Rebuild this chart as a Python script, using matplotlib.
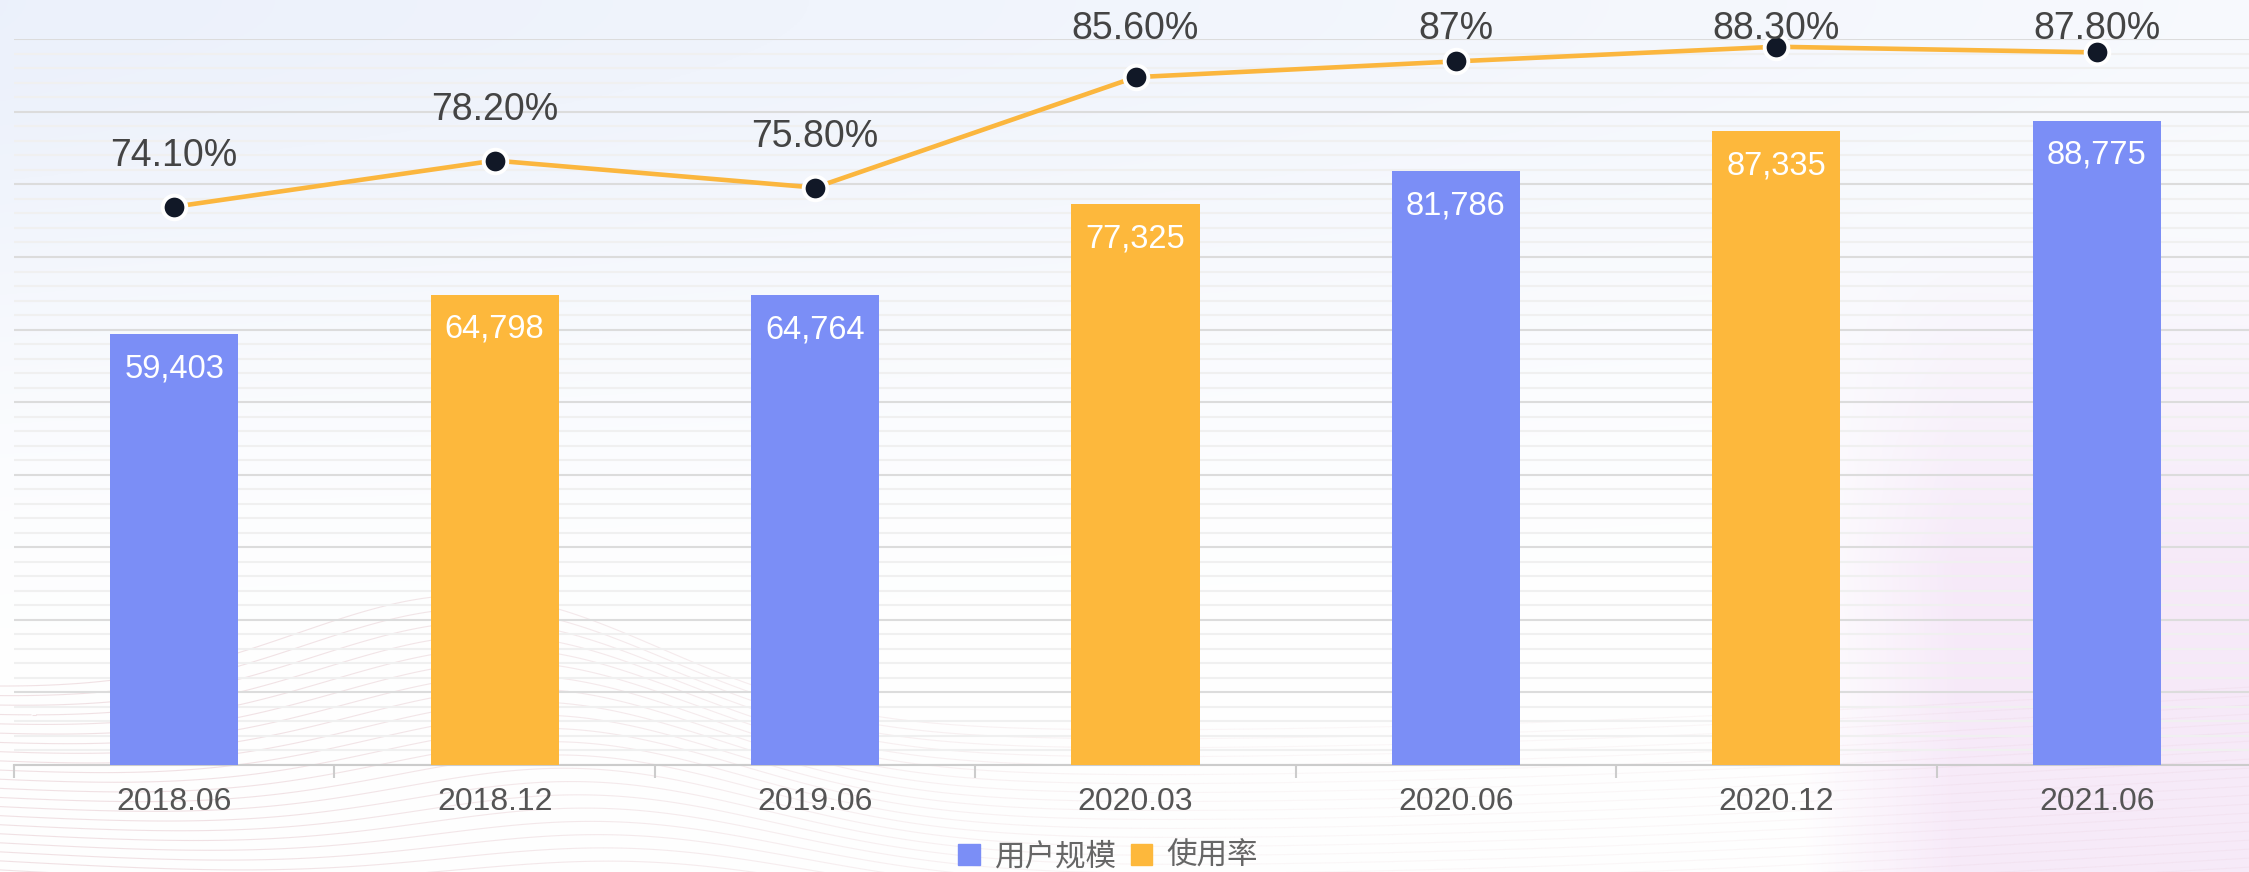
import numpy as np
import matplotlib
matplotlib.use('Agg')
import matplotlib.pyplot as plt
from matplotlib.patches import Patch
from matplotlib.collections import LineCollection

plt.rcParams['font.family'] = ['Liberation Sans', 'Noto Sans CJK SC', 'DejaVu Sans']

# data
periods = ['2018.06', '2018.12', '2019.06', '2020.03', '2020.06', '2020.12', '2021.06']
users = [59403, 64798, 64764, 77325, 81786, 87335, 88775]
rate = [74.10, 78.20, 75.80, 85.60, 87, 88.30, 87.80]
rate_labels = ['74.10%', '78.20%', '75.80%', '85.60%', '87%', '88.30%', '87.80%']
legend_names = ['用户规模', '使用率']

BLUE = '#7b8ef6'
ORANGE = '#fdb83c'
W, H = 2249, 872

fig = plt.figure(figsize=(W / 100, H / 100), dpi=100)

# soft background (decoration only)
bg = fig.add_axes([0, 0, 1, 1], zorder=-5)
yy, xx = np.mgrid[0:1:300j, 0:1:700j]
b = np.exp(-(yy / 0.42) ** 2) * (1 - 0.6 * xx)
p = np.clip((xx - 0.80) / 0.07, 0, 1) * np.clip((yy - 0.25) / 0.4, 0, 1)
img = np.ones((300, 700, 3))
for k, (bc, pc) in enumerate(zip((0.925, 0.945, 0.985), (0.968, 0.918, 0.975))):
    img[..., k] = 1 - b * (1 - bc) - p * (1 - pc)
bg.imshow(np.clip(img, 0, 1), aspect='auto', extent=(0, W, 0, H))
# faint wavy lines at the bottom, fading to the right
wx = np.linspace(0, W, 500)
fade = 0.25 * np.clip(1.15 - wx / 1400, 0.25, 1)
for i in range(24):
    base = 690 + i * 9
    amp = 120 * (1 - i / 30)
    wy = base - amp * np.exp(-((wx - 480 - i * 8) / 260) ** 2) + 40 * np.sin(wx / 700)
    pts = np.column_stack([wx, H - wy]).reshape(-1, 1, 2)
    segs = np.concatenate([pts[:-1], pts[1:]], axis=1)
    cols = np.zeros((len(segs), 4))
    cols[:, :3] = (0.79, 0.54, 0.59)
    cols[:, 3] = fade[:-1]
    bg.add_collection(LineCollection(segs, colors=cols, linewidths=0.8))
bg.set_xlim(0, W)
bg.set_ylim(0, H)
bg.axis('off')

ax = fig.add_axes([14 / W, (H - 765) / H, (2257 - 14) / W, (765 - 39.3) / H])
ax.patch.set_alpha(0)
x = np.arange(len(periods))
colors = [BLUE if i % 2 == 0 else ORANGE for i in range(len(periods))]
ax.bar(x, users, width=0.40, color=colors, zorder=3)
ax.set_xlim(-0.5, len(periods) - 0.5)
ax.set_ylim(0, 100000)
ax.set_yticks(np.arange(0, 100001, 10000))
ax.set_yticks(np.arange(0, 100001, 2000), minor=True)
ax.yaxis.grid(True, which='major', color='#dcdcdc', lw=1.5, zorder=0)
ax.yaxis.grid(True, which='minor', color='#f0f0f0', lw=1.5, zorder=0)
for s in ['left', 'right', 'top']:
    ax.spines[s].set_visible(False)
ax.spines['bottom'].set_color('#cccccc')
ax.spines['bottom'].set_linewidth(1.5)
ax.set_xticks(x)
ax.set_xticklabels(periods, fontsize=23, color='#555555')
ax.set_xticks(np.arange(-0.5, len(periods), 1), minor=True)
ax.tick_params(axis='x', which='major', length=0, pad=16)
ax.tick_params(axis='x', which='minor', length=9.5, width=1.5, color='#cccccc')

for xi, v in zip(x, users):
    ax.annotate(f'{v:,}', (xi, v), xytext=(0, -25), textcoords='offset points',
                ha='center', va='center', color='white', fontsize=23.5, zorder=4)

ax2 = ax.twinx()
ax2.patch.set_alpha(0)
ax2.set_ylim(24.56, 88.96)
ax2.plot(x, rate, color='#fbb63e', lw=3.3, marker='o', markersize=17,
         markerfacecolor='#111827', markeredgecolor='white', markeredgewidth=2.8,
         clip_on=False, zorder=5)
ax2.set_yticks([])
for s in ax2.spines.values():
    s.set_visible(False)
# twinx turns the left ticks back on
ax.tick_params(axis='y', which='both', left=False, right=False, labelleft=False)

for xi, v, lab in zip(x, rate, rate_labels):
    px, py = ax2.transData.transform((xi, v))
    ty = min(py + 51, H - 29)
    fig.text(px / W, ty / H, lab, ha='center', va='center', fontsize=27, color='#444444')

handles = [Patch(color=BLUE, label=legend_names[0]), Patch(color=ORANGE, label=legend_names[1])]
fig.legend(handles=handles, loc='center', bbox_to_anchor=(1108 / W, 1 - 857 / H), ncol=2,
           frameon=False, fontsize=22, handlelength=0.7, handleheight=0.7,
           handletextpad=0.45, columnspacing=0.5, labelcolor='#666666')

fig.savefig('out.png', dpi=100)
